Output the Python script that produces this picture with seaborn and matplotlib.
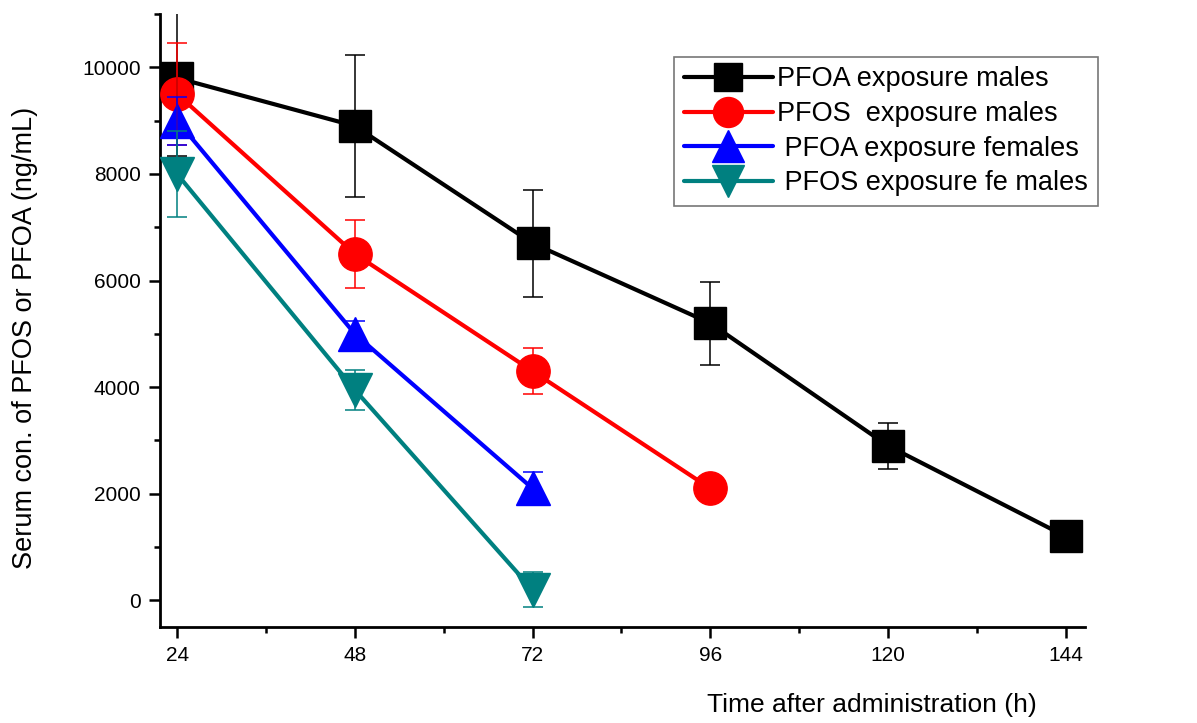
import matplotlib
matplotlib.use("Agg")
import matplotlib.pyplot as plt
import numpy as np
import pandas as pd
import seaborn as sns
from matplotlib.lines import Line2D
from matplotlib.ticker import MultipleLocator

# ---- data ----
series = ["PFOA exposure males", "PFOS  exposure males",
          " PFOA exposure females", " PFOS exposure fe males"]

pfoa_m_time = [24, 48, 72, 96, 120, 144]
pfoa_m_conc = [9800, 8900, 6700, 5200, 2900, 1200]
pfoa_m_err = [1470, 1340, 1000, 780, 430, 0]

pfos_m_time = [24, 48, 72, 96]
pfos_m_conc = [9500, 6500, 4300, 2100]
pfos_m_err = [950, 640, 430, 0]

pfoa_f_time = [24, 48, 72]
pfoa_f_conc = [9000, 5000, 2100]
pfoa_f_err = [450, 250, 300]

pfos_f_time = [24, 48, 72]
pfos_f_conc = [8000, 3950, 200]
pfos_f_err = [800, 380, 330]

colors = ["#000000", "#ff0000", "#0000ff", "#008080"]
markers = ["s", "o", "^", "v"]
sizes = [23, 24, 25, 25]

times = [pfoa_m_time, pfos_m_time, pfoa_f_time, pfos_f_time]
concs = [pfoa_m_conc, pfos_m_conc, pfoa_f_conc, pfos_f_conc]
errs = [pfoa_m_err, pfos_m_err, pfoa_f_err, pfos_f_err]

df = pd.concat([pd.DataFrame({"time": t, "conc": c, "err": e, "group": s})
                for t, c, e, s in zip(times, concs, errs, series)], ignore_index=True)

sns.set_style("ticks")
plt.rcParams['font.family'] = ['Liberation Sans', 'DejaVu Sans']
plt.rcParams['text.color'] = 'black'
plt.rcParams['axes.labelcolor'] = 'black'
plt.rcParams['xtick.color'] = 'black'
plt.rcParams['ytick.color'] = 'black'
plt.rcParams['axes.edgecolor'] = 'black'

fig = plt.figure(figsize=(11.97, 7.23), dpi=100)
ax = fig.add_axes([0.1337, 0.1328, 0.7727, 0.8478])

palette = dict(zip(series, colors))
sns.lineplot(data=df, x="time", y="conc", hue="group", hue_order=series,
             palette=palette, lw=3, legend=False, ax=ax, zorder=2)

# markers drawn separately so each series gets its own size
for s, m, ms in zip(series, markers, sizes):
    sub = df[df["group"] == s]
    ax.plot(sub["time"], sub["conc"], ls="none", marker=m, ms=ms,
            color=palette[s], zorder=3, clip_on=False)

# error bars on top
for s in series:
    sub = df[(df["group"] == s) & (df["err"] > 0)]
    ax.errorbar(sub["time"], sub["conc"], yerr=sub["err"], fmt="none",
                ecolor=palette[s], elinewidth=1.1, capsize=7, capthick=1.1,
                zorder=4)

ax.set_xlim(21.7, 146.6)
ax.set_ylim(-500, 11000)
ax.set_xticks(pfoa_m_time)
ax.xaxis.set_minor_locator(MultipleLocator(12))
ax.yaxis.set_minor_locator(MultipleLocator(1000))
ax.set_yticks(np.arange(0, 10001, 2000))

ax.tick_params(which="major", direction="out", length=8, width=1.8, labelsize=15, pad=6)
ax.tick_params(which="minor", direction="out", length=4, width=1.8)
sns.despine(ax=ax)
for sp in ["left", "bottom"]:
    ax.spines[sp].set_linewidth(2)

ax.set_ylabel("Serum con. of PFOS or PFOA (ng/mL)", fontsize=19.5)
ax.yaxis.set_label_coords(-0.132, 0.471)
ax.set_xlabel("Time after administration (h)", fontsize=19)
ax.xaxis.set_label_coords(0.77, -0.108)

handles = [Line2D([], [], color=c, lw=3, marker=m, ms=ms * 0.9)
           for c, m, ms in zip(colors, markers, sizes)]
leg = ax.legend(handles, series, loc="upper left", bbox_to_anchor=(0.556, 0.93),
                fontsize=19.5, frameon=True, fancybox=False, handlelength=3.3,
                handletextpad=0.15, labelspacing=0.32, borderpad=0.35,
                borderaxespad=0)
leg.get_frame().set_edgecolor("#555555")
leg.get_frame().set_linewidth(1.2)

fig.savefig("out.png", dpi=100)
